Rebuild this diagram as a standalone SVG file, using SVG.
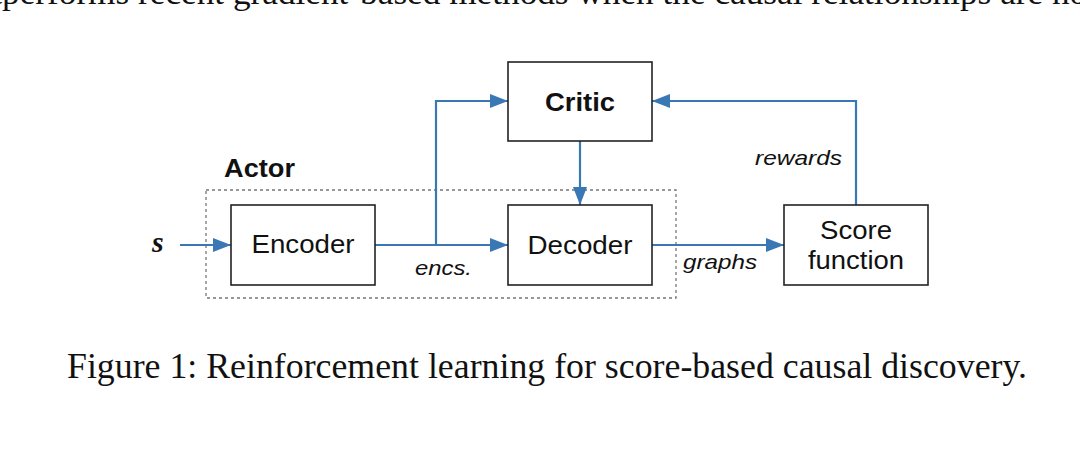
<svg xmlns="http://www.w3.org/2000/svg" width="1080" height="467" viewBox="0 0 1080 467">
<style>
.box{fill:#fff;stroke:#222;stroke-width:1.6}
.lbl{font-family:"Liberation Sans",Arial,sans-serif;font-size:25px;fill:#111;text-anchor:middle}
.b{font-weight:bold}
.it{font-family:"Liberation Sans",Arial,sans-serif;font-size:21px;font-style:italic;fill:#111}
.con{fill:none;stroke:#3a78b5;stroke-width:2.2}
.serif{font-family:"Liberation Serif","Times New Roman",serif;fill:#111}
</style>
<defs>
<marker id="arr" viewBox="0 0 18 14" refX="18" refY="7" markerWidth="18" markerHeight="14" markerUnits="userSpaceOnUse" orient="auto">
<path d="M0,0 L18,7 L0,14 z" fill="#3a78b5"/>
</marker>
</defs>
<rect width="1080" height="467" fill="#fff"/>
<text class="serif" x="-43" y="4" font-size="34" textLength="1140" lengthAdjust="spacingAndGlyphs">outperforms recent gradient-based methods when the causal relationships are not</text>
<g id="actor">
<rect x="206" y="190" width="470" height="108" fill="none" stroke="#777" stroke-width="1.3" stroke-dasharray="3,3"/>
<text x="224" y="177" textLength="71" lengthAdjust="spacingAndGlyphs" style="font-family:'Liberation Sans',Arial,sans-serif;font-size:25px;font-weight:bold;fill:#111">Actor</text>
</g>
<g id="connectors">
<path class="con" d="M180,245 H231" marker-end="url(#arr)"/>
<path class="con" d="M375,245 H508" marker-end="url(#arr)"/>
<path class="con" d="M436,245 V101 H508" marker-end="url(#arr)"/>
<path class="con" d="M580,141 V205" marker-end="url(#arr)"/>
<path class="con" d="M652,245 H784" marker-end="url(#arr)"/>
<path class="con" d="M856,205 V101 H652" marker-end="url(#arr)"/>
<text class="it" x="415" y="275" textLength="57" lengthAdjust="spacingAndGlyphs">encs.</text>
<text class="it" x="683" y="269" textLength="74" lengthAdjust="spacingAndGlyphs">graphs</text>
<text class="it" x="755" y="165" textLength="87" lengthAdjust="spacingAndGlyphs">rewards</text>
</g>
<g id="s">
<text class="serif" x="152" y="252" font-size="30" font-weight="bold" font-style="italic">s</text>
</g>
<g id="critic">
<rect class="box" x="508" y="62" width="144" height="79"/>
<text class="lbl b" x="580" y="111" textLength="70" lengthAdjust="spacingAndGlyphs">Critic</text>
</g>
<g id="encoder">
<rect class="box" x="231" y="205" width="144" height="80"/>
<text class="lbl" x="303" y="253" textLength="103" lengthAdjust="spacingAndGlyphs">Encoder</text>
</g>
<g id="decoder">
<rect class="box" x="508" y="205" width="144" height="80"/>
<text class="lbl" x="580" y="254" textLength="105" lengthAdjust="spacingAndGlyphs">Decoder</text>
</g>
<g id="score">
<rect class="box" x="784" y="205" width="144" height="80"/>
<text class="lbl" x="856" y="239" textLength="72" lengthAdjust="spacingAndGlyphs">Score</text>
<text class="lbl" x="856" y="269" textLength="96" lengthAdjust="spacingAndGlyphs">function</text>
</g>
<text class="serif" x="67" y="378" font-size="35" textLength="960" lengthAdjust="spacingAndGlyphs">Figure 1: Reinforcement learning for score-based causal discovery.</text>
</svg>
